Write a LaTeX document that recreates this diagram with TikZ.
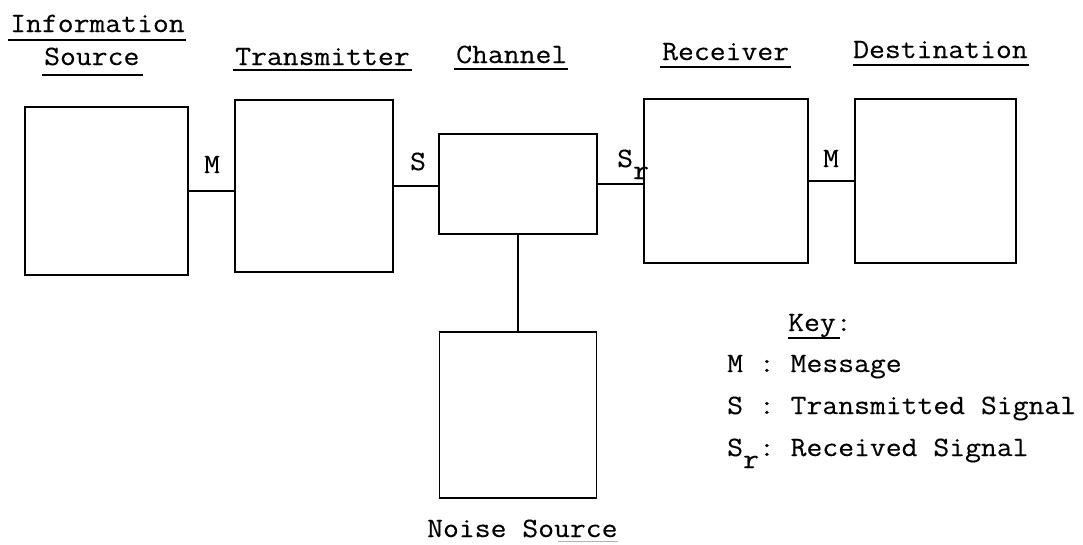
\documentclass[tikz,border=0pt]{standalone}
\usepackage{fontspec}
\newfontfamily\tw[FakeStretch=1.1,FakeBold=0.25]{Latin Modern Mono}
\begin{document}
\frenchspacing
\begin{tikzpicture}[x=1pt,y=-1pt,
  blk/.style={draw,line width=1.6pt,inner sep=0pt},
  wire/.style={line width=1.6pt},
  txt/.style={inner sep=0pt,anchor=base west,font=\tw\fontsize{28}{32}\selectfont\frenchspacing},
  lbl/.style={inner sep=0pt,anchor=base,font=\tw\fontsize{28}{32}\selectfont},
  uline/.style={line width=1.5pt},
  faint/.style={line width=1pt,gray!60}]
\useasboundingbox (0,0) rectangle (1083,544);
% boxes
\node[blk,minimum width=163pt,minimum height=168pt] (src) at (106.5,191) {};
\node[blk,minimum width=158pt,minimum height=172pt] (tx) at (314,186) {};
\node[blk,minimum width=158pt,minimum height=100pt] (ch) at (518,184) {};
\node[blk,minimum width=164pt,minimum height=164pt] (rx) at (726,181) {};
\node[blk,minimum width=161pt,minimum height=164pt] (dst) at (935.5,181) {};
\node[blk,minimum width=157pt,minimum height=166pt] (noise) at (518,415) {};
% connectors
\draw[wire] (src.east) -- (src.east -| tx.west);
\draw[wire] (tx.east) -- (tx.east -| ch.west);
\draw[wire] (ch.east) -- (ch.east -| rx.west);
\draw[wire] (rx.east) -- (rx.east -| dst.west);
\draw[wire] (ch.south) -- (ch.south |- noise.north);
% connector labels
\node[lbl] (m1) at (212,173) {M};
\node[lbl] (s1) at (418,170) {S};
\node[txt] (sr) at (617,167) {S\raisebox{-12pt}{r}};
\node[lbl] (m2) at (831,167) {M};
% headings
\node[txt] (h1) at (10,32) {Information};
\node[txt] (h2) at (44,65) {Source};
\node[txt] (h3) at (235,65) {Transmitter};
\node[txt] (h4) at (456,63) {Channel};
\node[txt] (h5) at (662,60) {Receiver};
\node[txt] (h6) at (853,58) {Destination};
\node[txt] (h7) at (427,537) {Noise Source};
\draw[uline] ([xshift=-2pt,yshift=-8pt]h1.base west) -- ([xshift=1pt,yshift=-8pt]h1.base east);
\draw[uline] ([xshift=-2pt,yshift=-10pt]h2.base west) -- ([xshift=3pt,yshift=-10pt]h2.base east);
\draw[uline] ([xshift=-2pt,yshift=-5pt]h3.base west) -- ([xshift=2pt,yshift=-5pt]h3.base east);
\draw[uline] ([xshift=-2pt,yshift=-6pt]h4.base west) -- ([xshift=1pt,yshift=-6pt]h4.base east);
\draw[uline] ([xshift=-2pt,yshift=-7pt]h5.base west) -- ([xshift=2pt,yshift=-7pt]h5.base east);
\draw[uline] ([xshift=0pt,yshift=-7pt]h6.base west) -- ([xshift=1pt,yshift=-7pt]h6.base east);
\draw[faint] ([xshift=-60pt,yshift=-4pt]h7.base east) -- ([yshift=-4pt]h7.base east);
% key
\node[txt] (key) at (788,331) {Key:};
\draw[uline] ([yshift=-7pt]key.base west) -- ([xshift=-12pt,yshift=-7pt]key.base east);
\node[txt] (k1) at (727,372) {M : Message};
\node[txt] (k2) at (727,414) {S : Transmitted Signal};
\node[txt] (k3) at (727,456) {S\raisebox{-12pt}{r}: Received Signal};
\end{tikzpicture}
\end{document}
